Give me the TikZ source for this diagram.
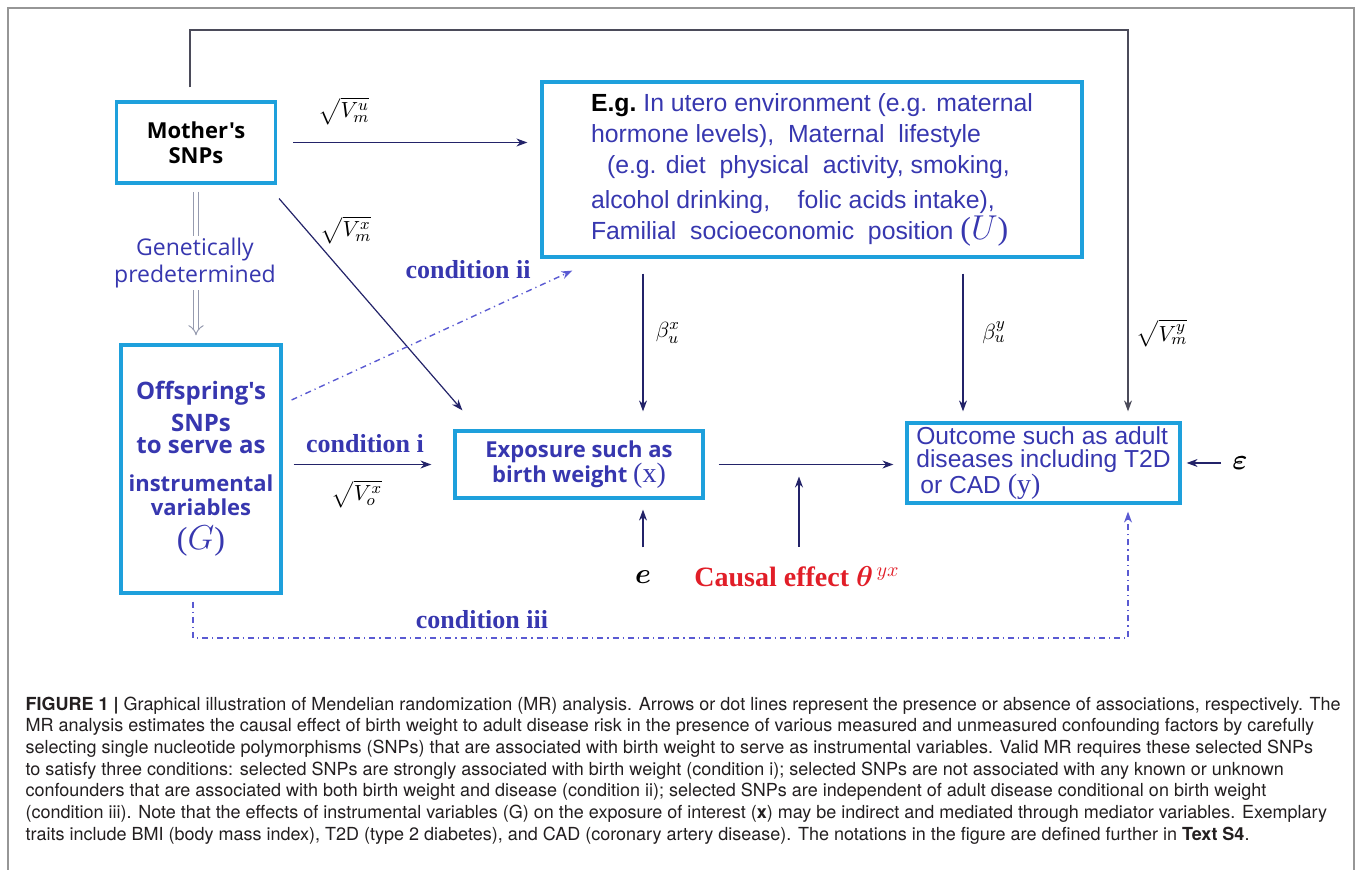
\documentclass[tikz,border=0pt]{standalone}
\usepackage{amsmath,amssymb,bm}
\usepackage{fontspec}
\setmainfont{Liberation Serif}
\setsansfont{Liberation Sans}
\newfontfamily\opensans{Open Sans}
\newfontfamily\capfont{TeX Gyre Heros}
\usepackage{tikz}
\usetikzlibrary{arrows.meta,positioning,calc}
\definecolor{boxcyan}{RGB}{30,160,220}
\definecolor{txtblue}{RGB}{55,55,175}
\definecolor{arrnavy}{RGB}{35,35,105}
\definecolor{dashblue}{RGB}{90,90,210}
\definecolor{effred}{RGB}{225,30,40}
\definecolor{framegray}{RGB}{150,150,150}
\definecolor{dblgray}{RGB}{150,155,175}
\definecolor{topgray}{RGB}{75,75,90}
\definecolor{capblack}{RGB}{35,31,32}

\begin{document}
\begin{tikzpicture}[x=0.5pt,y=-0.5pt,>={Stealth[length=5.5pt,width=4pt]},line width=0.6pt]
\tikzstyle{box}=[rectangle,draw=boxcyan,line width=1.6pt,align=center,inner sep=0pt]
\tikzstyle{arr}=[->,draw=arrnavy]
\tikzstyle{cond}=[->,draw=dashblue,dash dot,line width=0.7pt]
\tikzstyle{dbl}=[draw=dblgray,line width=0.5pt,double=white,double distance=2.2pt,-{Implies}]
\tikzstyle{sq}=[font=\fontsize{11}{11}\selectfont,inner sep=1pt]
\tikzstyle{condlbl}=[text=txtblue,font=\rmfamily\bfseries\fontsize{13}{13}\selectfont]
\useasboundingbox (0,0) rectangle (1355,870);
\draw[framegray,line width=0.6pt] (8,870) -- (8,8) -- (1354,8) -- (1354,870);

% boxes
\node[box,minimum width=79.5pt,minimum height=40.5pt,font=\opensans\bfseries\fontsize{11}{12.5}\selectfont] (mother) at (196,142.5) {Mother's\\SNPs};
\node[box,minimum width=80pt,minimum height=124pt,text=txtblue,font=\opensans\bfseries\fontsize{12}{12}\selectfont] (off) at (201,469) {Offspring's\\[4pt]SNPs\\[-1pt]to serve as\\[7pt]{\fontsize{11}{11}\selectfont instrumental}\\{\fontsize{11}{11}\selectfont variables}\\[5pt]{\rmfamily\mdseries\fontsize{16}{16}\selectfont($G$)}};
\node[box,minimum width=270pt,minimum height=87.5pt,align=left,text=txtblue,font=\sffamily\fontsize{12.4}{15.5}\selectfont] (U) at (812,169.5) {{\color{black}\bfseries E.g.}\ In utero environment (e.g. maternal\\hormone levels),\ \ Maternal\ \ lifestyle\\\hspace{8pt}(e.g. diet\ \ physical\ \ activity, smoking,\\[2pt]alcohol drinking,\ \ \ \ folic acids intake),\\Familial\ \ socioeconomic\ \ position\ {\rmfamily\fontsize{16}{16}\selectfont($U$)}};
\node[box,minimum width=124pt,minimum height=33.5pt,text=txtblue,font=\opensans\bfseries\fontsize{11}{12.5}\selectfont] (expo) at (579,464.5) {Exposure such as\\birth weight {\rmfamily\mdseries\fontsize{14}{14}\selectfont(x)}};
\node[box,minimum width=136.5pt,minimum height=40pt,align=left,text=txtblue,font=\sffamily\fontsize{12.3}{11.5}\selectfont] (out) at (1043.5,463) {Outcome such as adult\\diseases including T2D\\\hspace{2pt}or CAD {\rmfamily\fontsize{14}{11}\selectfont(y)}};

% labels
\node[sq] (vmu) at (344,111) {$\sqrt{V_m^u}$};
\node[sq] (vmx) at (346,230) {$\sqrt{V_m^x}$};
\node[condlbl] (c2) at (468,270) {condition ii};
\node[condlbl] (c1) at (365,444) {condition i};
\node[sq] (vox) at (357,494) {$\sqrt{V_o^x}$};
\node[sq] (bux) at (668,333) {$\beta_u^x$};
\node[sq] (buy) at (994,333) {$\beta_u^y$};
\node[sq] (vmy) at (1162,333) {$\sqrt{V_m^y}$};
\node[font=\fontsize{15}{15}\selectfont] (e) at (643,577) {$\bm{e}$};
\node[text=effred,font=\rmfamily\bfseries\fontsize{14}{14}\selectfont] (causal) at (797,577) {Causal effect $\bm{\theta}^{\,yx}$};
\node[font=\fontsize{15}{15}\selectfont] (eps) at (1240,463) {$\bm{\varepsilon}$};
\node[condlbl] (c3) at (482,620) {condition iii};

\coordinate (tr) at (1128,30);
\coordinate (bl) at (193,638);
\coordinate (bx) at ([shift={(64,0)}]expo.north);
\coordinate (by) at ([shift={(-80.5,0)}]out.north);
\coordinate (mid) at ($(expo.east)!0.47!(expo.east -| out.west)$);

% connectors
\draw[dbl,shorten <=3.5pt,shorten >=4pt] (mother.south) -- (mother.south |- off.north);
\node[text=txtblue,font=\opensans\fontsize{11.5}{13.5}\selectfont,fill=white,inner sep=1pt,align=center] (gen) at (195,263) {Genetically\\predetermined};
\draw[arr,draw=topgray,shorten >=5pt] ([shift={(-6,-13)}]mother.north) |- (tr) -- (tr |- out.north);
\draw[arr,shorten <=8pt,shorten >=6.5pt] (mother.east) -- (mother.east -| U.west);
\draw[arr] ([shift={(2,14)}]mother.south east) -- ([shift={(9,-19)}]expo.north west);
\draw[arr,shorten <=5.5pt,shorten >=11pt] (off.east |- expo.west) -- (expo.west);
\draw[cond] ([shift={(9,-69)}]off.east) -- ([shift={(32,12)}]U.south west);
\draw[arr,shorten <=7.5pt,shorten >=9pt] (U.south -| bx) -- (bx);
\draw[arr,shorten <=7.5pt,shorten >=5pt] (U.south -| by) -- (by);
\draw[arr,shorten <=8pt,shorten >=5pt] (e.north) -- (e |- expo.south);
\draw[arr,shorten <=7pt,shorten >=6pt] (expo.east) -- (expo.east -| out.west);
\draw[arr,shorten <=6.5pt,shorten >=6pt] (causal.north -| mid) -- (mid);
\draw[arr,shorten <=2pt,shorten >=2.5pt] (eps.west) -- (out.east);
\draw[cond,shorten <=3.5pt,shorten >=3.5pt] (bl |- off.south) -- (bl) -| (tr |- out.south);

% caption
\node[anchor=north west,inner sep=0pt,align=left,text=capblack,font=\capfont\fontsize{9}{10.85}\selectfont] (cap) at (25,696) {\textbf{FIGURE 1 |} Graphical illustration of Mendelian randomization (MR) analysis. Arrows or dot lines represent the presence or absence of associations, respectively. The\\
MR analysis estimates the causal effect of birth weight to adult disease risk in the presence of various measured and unmeasured confounding factors by carefully\\
selecting single nucleotide polymorphisms (SNPs) that are associated with birth weight to serve as instrumental variables. Valid MR requires these selected SNPs\\
to satisfy three conditions: selected SNPs are strongly associated with birth weight (condition i); selected SNPs are not associated with any known or unknown\\
confounders that are associated with both birth weight and disease (condition ii); selected SNPs are independent of adult disease conditional on birth weight\\
(condition iii). Note that the effects of instrumental variables (G) on the exposure of interest (\textbf{x}) may be indirect and mediated through mediator variables. Exemplary\\
traits include BMI (body mass index), T2D (type 2 diabetes), and CAD (coronary artery disease). The notations in the figure are defined further in \textbf{Text S4}.};
\end{tikzpicture}
\end{document}
